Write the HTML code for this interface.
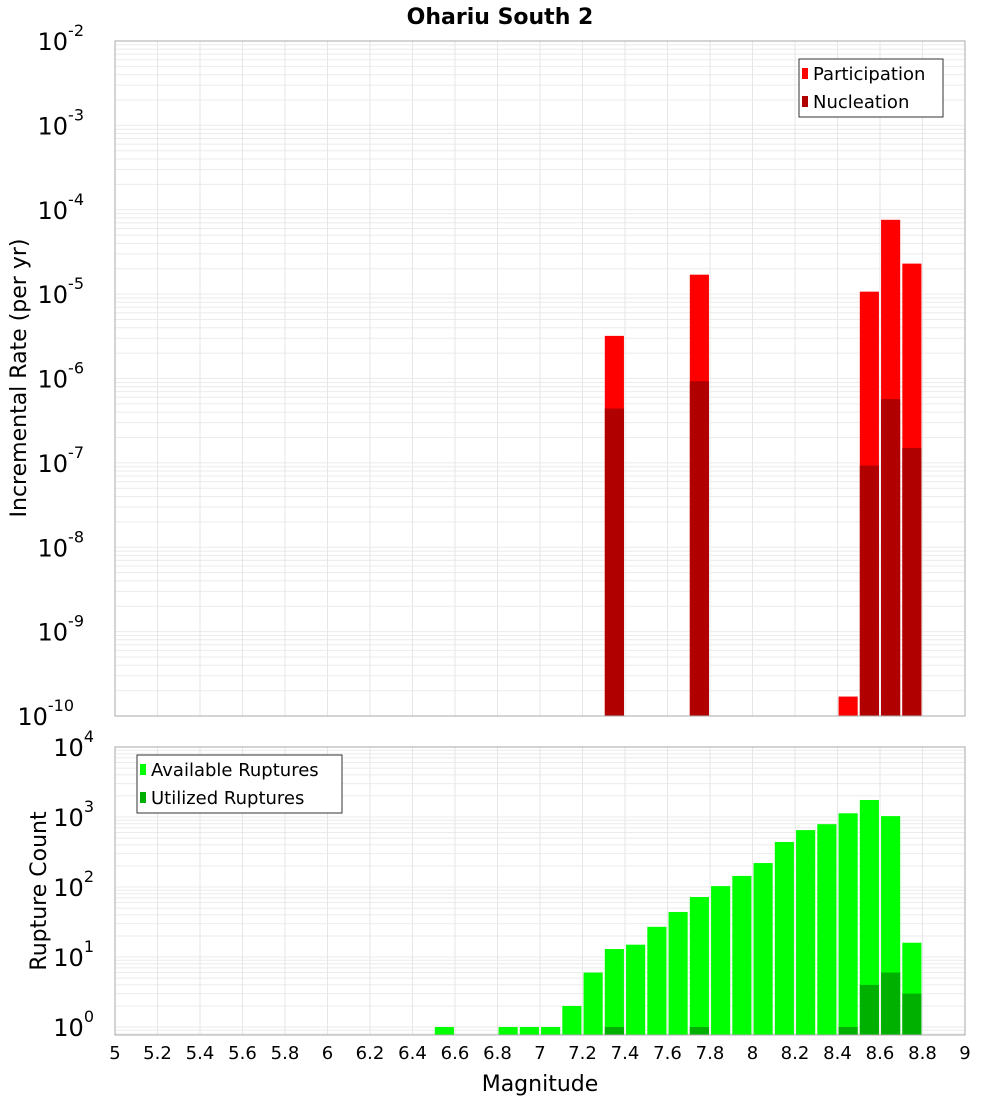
<!DOCTYPE html>
<html><head><meta charset="utf-8"><style>
body{margin:0;background:#fff;font-family:"DejaVu Sans","Liberation Sans",sans-serif}
svg text{font-family:"DejaVu Sans","Liberation Sans",sans-serif}
</style></head><body>
<svg id="chart" width="1000" height="1100" xmlns="http://www.w3.org/2000/svg">
<text x="500" y="24" text-anchor="middle" font-size="22" font-weight="bold">Ohariu South 2</text>
</svg>
<script>
const binCenters=[7.35,7.75,8.45,8.55,8.65,8.75];
const participation=[3.2e-6,1.7e-5,1.7e-10,1.07e-5,7.6e-5,2.3e-5];
const nucleation=[4.4e-7,9.3e-7,0,9.3e-8,5.7e-7,1.5e-7];
const countBins=[6.55,6.85,6.95,7.05,7.15,7.25,7.35,7.45,7.55,7.65,7.75,7.85,7.95,8.05,8.15,8.25,8.35,8.45,8.55,8.65,8.75];
const available=[1,1,1,1,2,6,13,15,27,44,72,103,144,220,440,650,790,1130,1750,1030,16];
const utilized=[0,0,0,0,0,0,1,0,0,0,1,0,0,0,0,0,0,1,4,6,3];
const xTicks=[5,5.2,5.4,5.6,5.8,6,6.2,6.4,6.6,6.8,7,7.2,7.4,7.6,7.8,8,8.2,8.4,8.6,8.8,9];
const topExp=[-2,-3,-4,-5,-6,-7,-8,-9,-10];
const botExp=[4,3,2,1,0];

const svg=document.getElementById('chart');
const NS='http://www.w3.org/2000/svg';
function mk(tag,attrs,parent){const e=document.createElementNS(NS,tag);for(const k in attrs)e.setAttribute(k,attrs[k]);(parent||svg).appendChild(e);return e;}
const X0=115,X1=965;
const xs=m=>X0+(m-5)/4*(X1-X0);
const T={top:41,bot:716,hi:-2,lo:-10};
const B={top:747,bot:1035,hi:4,lo:-0.114};
const ys=(P,v)=>P.top+(P.hi-Math.log10(v))/(P.hi-P.lo)*(P.bot-P.top);
const BW=0.09;

function panel(P,name){
  const g=mk('g',{});
  
  
  mk('rect',{x:X0,y:P.top,width:X1-X0,height:P.bot-P.top,fill:'#fff'},g);
  for(let d=Math.floor(P.lo);d<P.hi;d++){for(let k=1;k<10;k++){const v=k*Math.pow(10,d);const lv=Math.log10(v);if(lv<P.lo||lv>P.hi)continue;const y=ys(P,v);mk('line',{x1:X0,x2:X1,y1:y,y2:y,stroke:'#ebebeb','stroke-width':1},g);}}
  xTicks.forEach(t=>{const x=xs(t);mk('line',{x1:x,x2:x,y1:P.top,y2:P.bot,stroke:'#e6e6e6','stroke-width':1},g);});
  return g;
}
function border(P,name){const r=mk('rect',{x:X0,y:P.top,width:X1-X0,height:P.bot-P.top,fill:'none',stroke:'#aaa','stroke-width':1});}
function yLabels(P,exps,name){
  exps.forEach(e=>{const y=ys(P,Math.pow(10,e));const t=mk('text',{x:X0-11,y:y+9,'text-anchor':'end','font-size':24});
    
    t.textContent='10';const s=mk('tspan',{dy:-14,'font-size':16},t);s.textContent=String(e);
    // move text so base ends before exponent
    t.setAttribute('x',X0-11-(String(e).length*10));});
}

// top panel
panel(T,'rate');
binCenters.forEach((c,i)=>{
  const x=xs(c-BW/2),w=xs(c+BW/2)-x;
  if(participation[i]>0){const y=Math.max(T.top,ys(T,participation[i]));const r=mk('rect',{x:x,y:y,width:w,height:T.bot-y,fill:'#ff0000'});}
  if(nucleation[i]>0){const y=Math.max(T.top,ys(T,nucleation[i]));const r=mk('rect',{x:x,y:y,width:w,height:T.bot-y,fill:'#b00000'});}
});
border(T,'rate');
yLabels(T,topExp,'rate');

// bottom panel
panel(B,'count');
countBins.forEach((c,i)=>{
  const x=xs(c-BW/2),w=xs(c+BW/2)-x;
  if(available[i]>0){const y=ys(B,available[i]);const r=mk('rect',{x:x,y:y,width:w,height:B.bot-y,fill:'#00ff00'});}
  if(utilized[i]>0){const y=ys(B,utilized[i]);const r=mk('rect',{x:x,y:y,width:w,height:B.bot-y,fill:'#00b000'});}
});
border(B,'count');
yLabels(B,botExp,'count');

// x tick labels
xTicks.forEach(t=>{const tx=mk('text',{x:xs(t),y:1059,'text-anchor':'middle','font-size':18});tx.textContent=String(t);});
const xt=mk('text',{x:540,y:1091,'text-anchor':'middle','font-size':22});xt.textContent='Magnitude';
const yt1=mk('text',{x:0,y:0,'text-anchor':'middle','font-size':22,transform:'translate(26,378) rotate(-90)'});yt1.textContent='Incremental Rate (per yr)';
const yt2=mk('text',{x:0,y:0,'text-anchor':'middle','font-size':22,transform:'translate(46,891) rotate(-90)'});yt2.textContent='Rupture Count';

// legends
function legend(x,y,w,items,name){
  const g=mk('g',{});
  mk('rect',{x:x,y:y,width:w,height:58,fill:'#fff',stroke:'#333','stroke-width':1},g);
  items.forEach((it,i)=>{
    mk('rect',{x:x+3,y:y+9+i*28,width:6,height:11,fill:it[1]},g);
    const t=mk('text',{x:x+14,y:y+21+i*28,'font-size':18},g);t.textContent=it[0];
  });
}
legend(799,59,144,[['Participation','#ff0000'],['Nucleation','#b00000']],'rate-legend');
legend(137,755,205,[['Available Ruptures','#00ff00'],['Utilized Ruptures','#00b000']],'count-legend');
</script>
</body></html>
